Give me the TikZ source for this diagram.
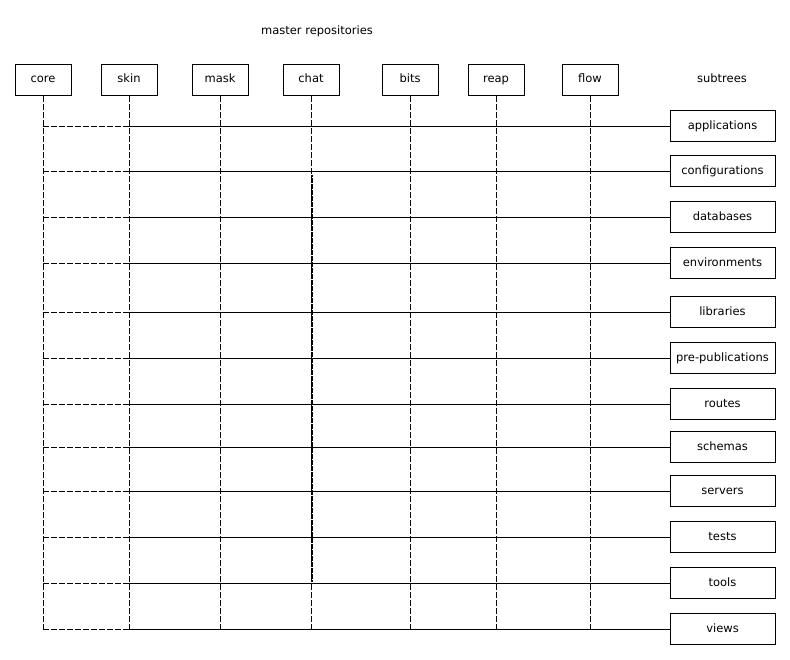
\documentclass[tikz,border=0pt]{standalone}
\usepackage{fontspec}
\setmainfont{DejaVu Sans}
\begin{document}
\begin{tikzpicture}[x=1pt,y=-1pt,
  txt/.style={font=\fontsize{11.5}{13}\selectfont,text height=8.5pt,text depth=2pt},
  repo/.style={draw,line width=1pt,minimum width=56pt,minimum height=31pt,inner sep=0pt,txt},
  sub/.style={draw,line width=1pt,minimum width=105pt,minimum height=31pt,inner sep=0pt,txt},
  lbl/.style={txt,inner sep=0pt},
  life/.style={line width=1pt,dash pattern=on 6pt off 2pt},
  link/.style={line width=1pt}]
\useasboundingbox (0,0) rectangle (790,659);

\node[lbl] (title) at (317,31) {master repositories};
\node[lbl] (subtitle) at (722,79) {subtrees};

% repository heads
\foreach \n/\x in {core/43,skin/129,mask/220,chat/311,bits/410,reap/496,flow/590}
  \node[repo] (\n) at (\x,79.5) {\n};

% subtree boxes
\foreach \n/\y in {applications/126,configurations/171,databases/217,environments/263,
  libraries/312,pre-publications/358,routes/404,schemas/447,servers/491,tests/537,tools/583,views/629}
  \node[sub] (\n) at (722.5,\y) {\n};

% lifelines of the repositories
\foreach \n in {core,skin,mask,chat,bits,reap,flow}
  \draw[life] (\n.south) -- (\n.center |- views.west);

% merged segment on chat
\draw[line width=1.4pt,dash pattern=on 5pt off 1pt,dash phase=3pt] ([xshift=0.8pt]chat.center |- 0,175) coordinate (chatA) -- ([xshift=0.8pt]chat.center |- 0,582) coordinate (chatB);

% links from core to every subtree
\foreach \n in {applications,configurations,databases,environments,libraries,
  pre-publications,routes,schemas,servers,tests,tools,views}{
  \draw[life] (core.center |- \n.west) -- (skin.center |- \n.west);
  \draw[link] (skin.center |- \n.west) -- (\n.west);
}
\end{tikzpicture}
\end{document}
